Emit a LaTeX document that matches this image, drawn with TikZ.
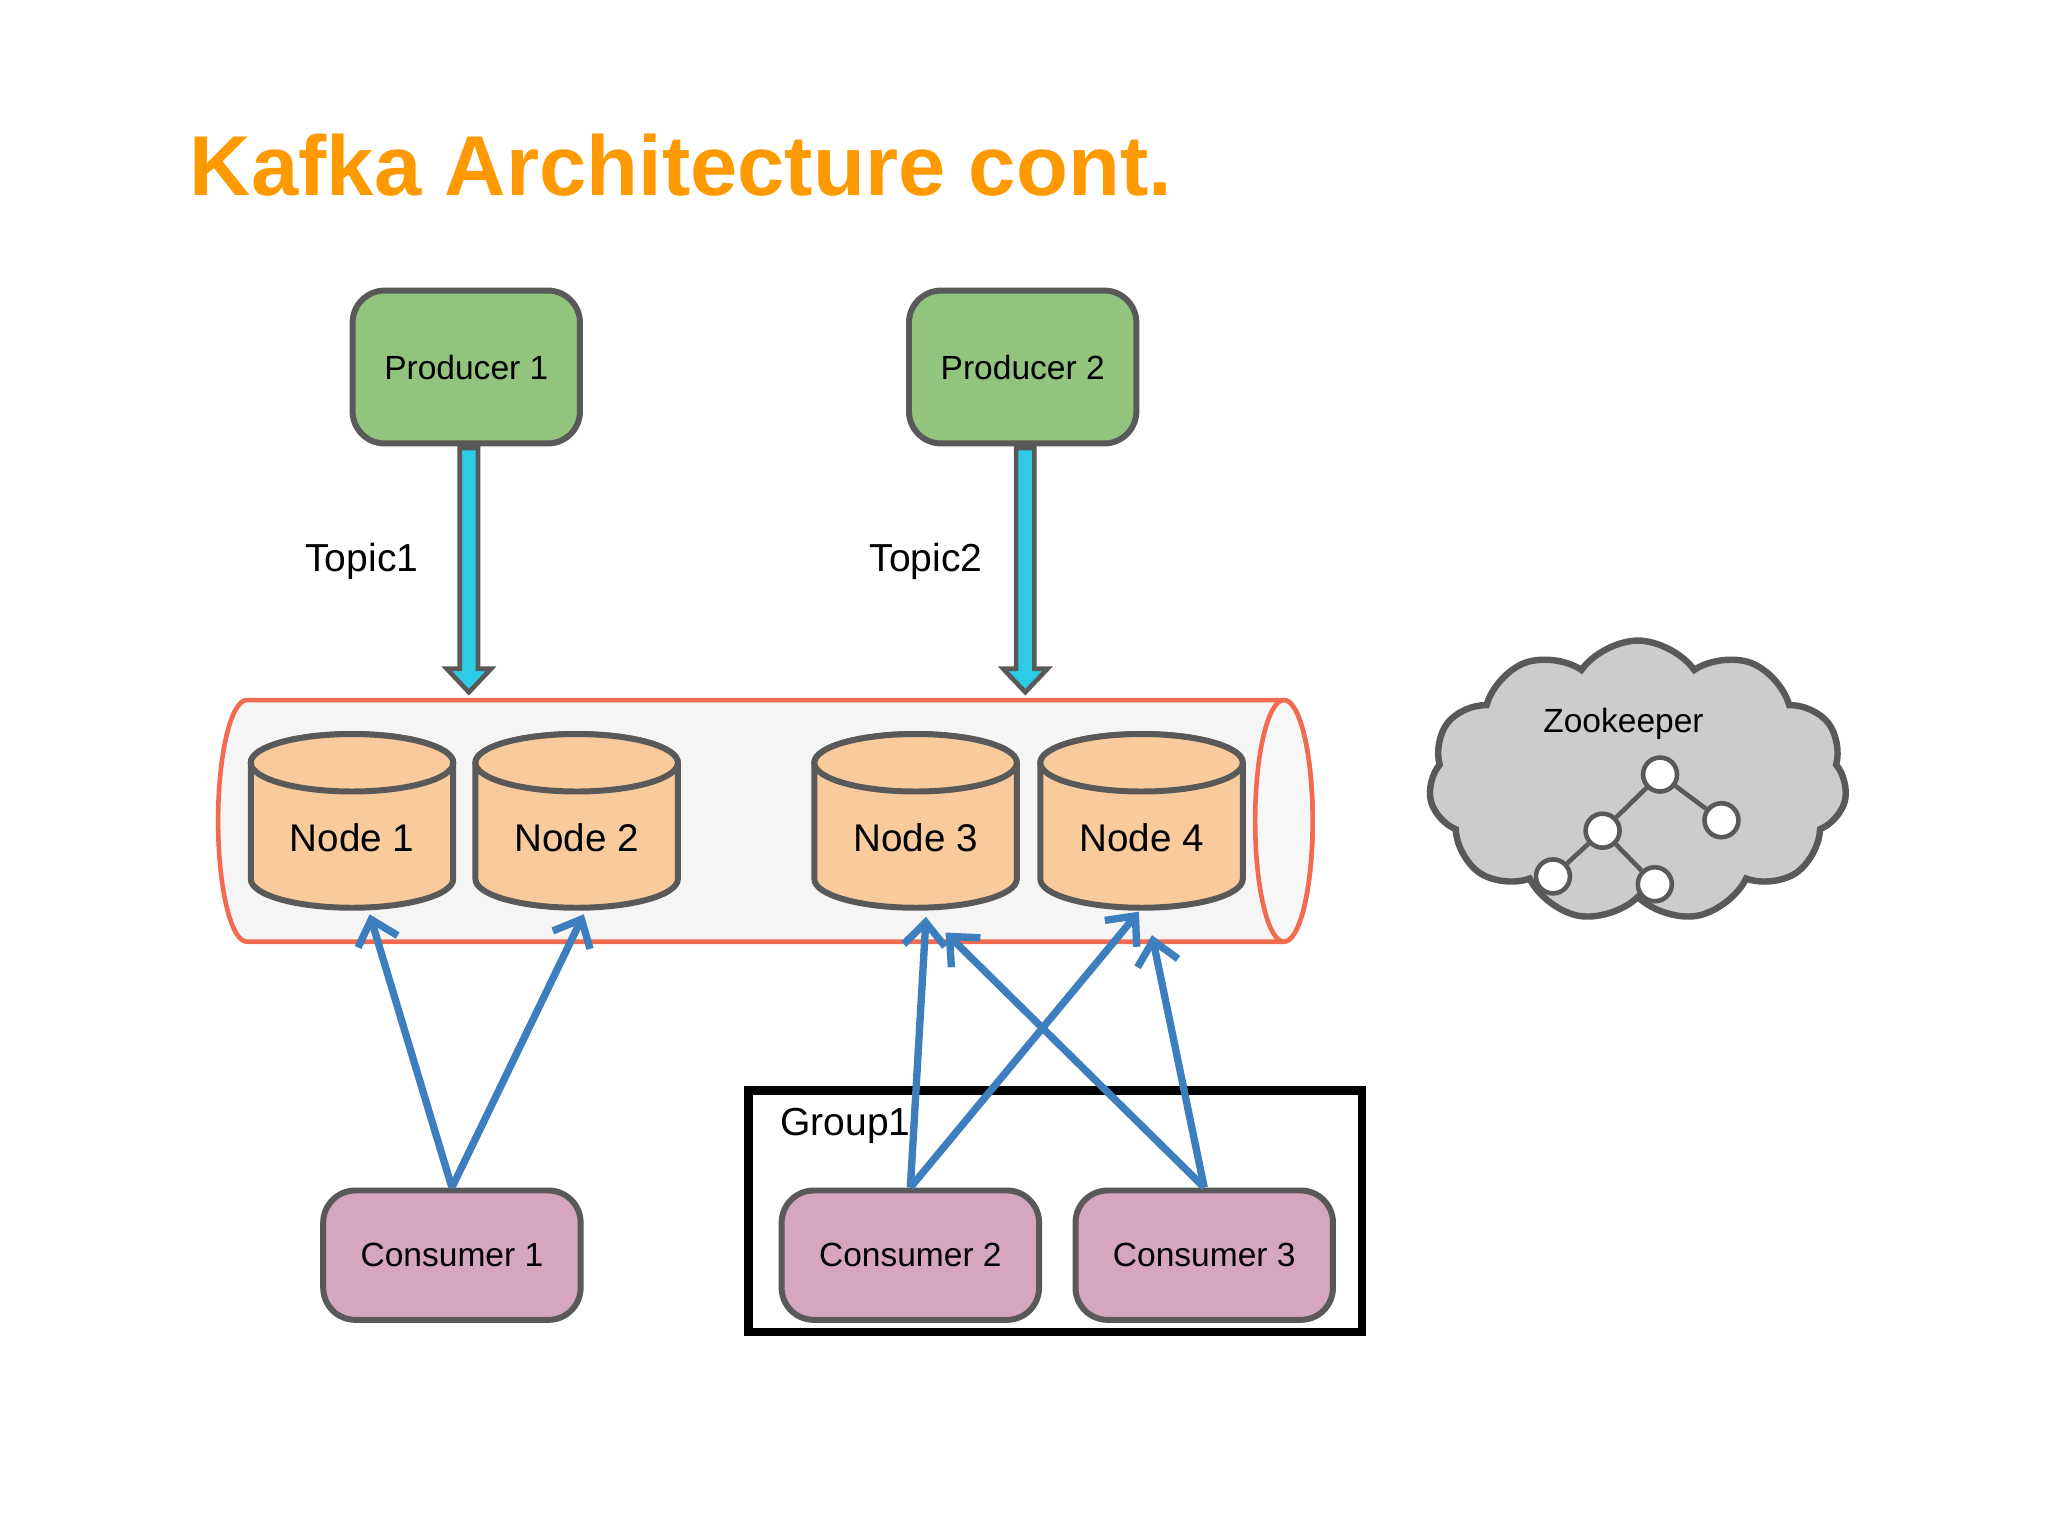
\documentclass[tikz,border=0pt]{standalone}
\usepackage{fontspec}
\setmainfont{Liberation Sans}
\usetikzlibrary{arrows.meta,shapes.symbols,shapes.arrows}
\definecolor{prod}{HTML}{93C47D}
\definecolor{cons}{HTML}{D5A6BD}
\definecolor{nodef}{HTML}{F9CB9C}
\definecolor{edge}{HTML}{595959}
\definecolor{cyl}{HTML}{F26A4F}
\definecolor{blu}{HTML}{3D7EBF}
\definecolor{cyan1}{HTML}{2ECBE6}
\definecolor{orng}{HTML}{FF9900}
\begin{document}
\begin{tikzpicture}[x=0.01cm,y=-0.01cm,
  box/.style={draw=edge,line width=1.3pt,rounded corners=7pt,minimum width=1.74cm,minimum height=1.17cm,font=\fontsize{7.3}{9}\selectfont},
  cons/.style={box,fill=cons,minimum width=1.97cm,minimum height=0.99cm},
  lab/.style={font=\fontsize{8.5}{10}\selectfont},
  barrow/.style={draw=edge,line width=1pt,fill=cyan1},
  con/.style={draw=blu,line width=1.6pt,-{Straight Barb[length=5pt,width=9pt]}},
  tn/.style={circle,draw=edge,fill=white,line width=1pt,minimum size=0.26cm,inner sep=0pt}]
\useasboundingbox (0,0) rectangle (1568,1176);
\fill[white] (0,0) rectangle (1568,1176);
\node[anchor=base west,text=orng,font=\fontsize{18.5}{22}\bfseries\selectfont] (title) at (133,150) {Kafka Architecture cont.};
\node[box,fill=prod] (p1) at (357,281) {Producer 1};
\node[box,fill=prod] (p2) at (783,281) {Producer 2};
% block arrows
\foreach \x in {359,785}{
 \draw[barrow] (\x-7,343) -- (\x+7,343) -- (\x+7,512) -- (\x+17,512) -- (\x,530) -- (\x-17,512) -- (\x-7,512) -- cycle;}
\node[lab] (t1) at (277,430) {Topic1};
\node[lab] (t2) at (709,430) {Topic2};
% big cylinder
\draw[cyl,line width=1pt,fill=gray!8] (189,536) -- (983,536) arc[start angle=-90,end angle=90,x radius=22,y radius=92.5] -- (189,721) arc[start angle=90,end angle=270,x radius=22,y radius=92.5] -- cycle;
\draw[cyl,line width=1pt,fill=gray!6] (983,628.5) ellipse[x radius=22,y radius=92.5];
% node cylinders
\foreach \x/\n in {269.5/1,441.5/2,701/3,874/4}{
 \draw[edge,line width=1.3pt,fill=nodef] (\x-77.5,584) -- (\x-77.5,673) arc[start angle=180,end angle=0,x radius=77.5,y radius=22] -- (\x+77.5,584) arc[start angle=0,end angle=-180,x radius=77.5,y radius=22] -- cycle;
 \draw[edge,line width=1.3pt,fill=nodef] (\x,584) ellipse[x radius=77.5,y radius=22];
 \node[font=\fontsize{8.4}{10}\selectfont] (n\n) at (\x,641) {Node \n};
}
% group
\draw[black,line width=1.8pt] (573,835) rectangle (1043,1020);
\node[lab,anchor=west] (g1) at (585,862) {Group1};
\node[cons] (c1) at (346,961) {Consumer 1};
\node[cons] (c2) at (697,961) {Consumer 2};
\node[cons] (c3) at (922,961) {Consumer 3};
\coordinate (a1) at (283,700);
\coordinate (a2) at (447,700);
\coordinate (a3) at (709,702);
\coordinate (a4) at (872,698);
\coordinate (a5) at (724,714);
\coordinate (a6) at (882,716);
\draw[con] (c1.north) -- (a1);
\draw[con] (c1.north) -- (a2);
\draw[con] (c2.north) -- (a3);
\draw[con] (c2.north) -- (a4);
\draw[con] (c3.north) -- (a5);
\draw[con] (c3.north) -- (a6);
% cloud
\node[cloud,cloud puffs=11,cloud puff arc=110,aspect=1.5,draw=edge,line width=1.4pt,fill=gray!40,minimum width=3.2cm,minimum height=2.15cm] (zk) at (1254,598) {};
\node[font=\fontsize{7.3}{9}\selectfont] (zkl) at (1243,554) {Zookeeper};
\node[tn] (z1) at (1271,593) {};
\node[tn] (z2) at (1227,636) {};
\node[tn] (z3) at (1318,628) {};
\node[tn] (z4) at (1189,671) {};
\node[tn] (z5) at (1267,677) {};
\draw[edge,line width=1pt] (z1)--(z2) (z1)--(z3) (z2)--(z4) (z2)--(z5);
\end{tikzpicture}
\end{document}
